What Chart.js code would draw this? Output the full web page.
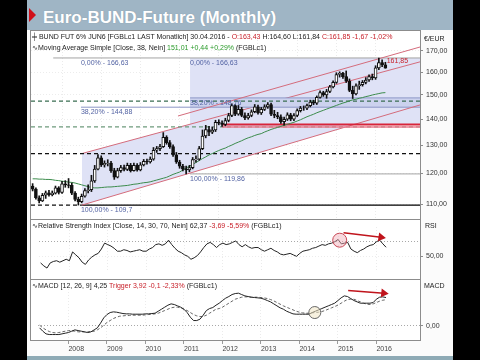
<!DOCTYPE html>
<html><head><meta charset="utf-8">
<script src="https://cdn.jsdelivr.net/npm/chart.js@4.4.1/dist/chart.umd.min.js"></script>
<style>
body{margin:0;width:480px;height:360px;background:#000;position:relative;overflow:hidden;font-family:"Liberation Sans",Arial,sans-serif}
#frame{position:absolute;left:27px;top:0;width:426px;height:360px;background:#fbfbfb}
#head{position:absolute;left:27px;top:0;width:426px;height:30px;background:#9fb5c5}
#tri{position:absolute;left:29px;top:8px;width:0;height:0;border-top:7px solid transparent;border-bottom:7px solid transparent;border-left:7px solid #d0101a}
#title{position:absolute;left:43px;top:9px;font:bold 17px/17px "Liberation Sans",Arial,sans-serif;color:#fff;text-shadow:0 0 1px #7f95a5}
#foot{position:absolute;left:27px;top:356px;width:426px;height:4px;background:#8eaab5}
.bg{position:absolute;background:#fff}
canvas{position:absolute}
.panel{position:absolute;border:1px solid #8c8c8c;box-sizing:border-box;pointer-events:none}
.t{position:absolute;font-size:7px;line-height:8px;white-space:nowrap;color:#222}
.r{color:#c8202a}.g{color:#2a9a2a}.f{color:#5363a3}
</style></head>
<body>
<div id="frame"></div><div id="head"></div><div id="tri"></div>
<div id="title">Euro-BUND-Future (Monthly)</div>
<div id="foot"></div>
<div class="bg" style="left:31px;top:31px;width:389px;height:309px"></div>
<canvas id="cA" width="422" height="188" style="left:31px;top:31px"></canvas>
<canvas id="cB" width="422" height="60" style="left:31px;top:219px"></canvas>
<canvas id="cC" width="422" height="74" style="left:31px;top:279px"></canvas>
<div class="panel" style="left:30px;top:30px;width:391px;height:190px"></div>
<div class="panel" style="left:30px;top:219px;width:391px;height:61px"></div>
<div class="panel" style="left:30px;top:279px;width:391px;height:62px"></div>
<div class="t" style="left:32px;top:33px">╪ BUND FUT 6% JUN6 [FGBLc1 LAST Monatlich] 30.04.2016 - <span class="r">O:163,43</span> H:164,60 L:161,84 <span class="r">C:161,85 -1,67 -1,02%</span></div>
<div class="t" style="left:32px;top:44px">∿Moving Average Simple [Close, 38, Nein] <span class="g">151,01 +0,44 +0,29%</span> (FGBLc1)</div>
<div class="t" style="left:32px;top:222px">∿Relative Strength Index [Close, 14, 30, 70, Nein] 62,37 <span class="r">-3,69 -5,59%</span> (FGBLc1)</div>
<div class="t" style="left:32px;top:282px">∿MACD [12, 26, 9] 4,25 <span class="r">Trigger 3,92 -0,1 -2,33%</span> (FGBLc1)</div>
<div class="t" style="left:424px;top:35px">€/EUR</div>
<div class="t" style="left:425px;top:222px">RSI</div>
<div class="t" style="left:424px;top:282px">MACD</div>
<script>
// ---- data (monthly, first bar = April 2007, last bar = April 2016) ----
const yearLabels = ['2008','2009','2010','2011','2012','2013','2014','2015','2016'];
const yearStartIdx = [9,21,33,45,57,69,81,93,105];
const priceTicks = [110,120,130,140,150,160,170];

const openP = [115.8,114.8,112.0,111.0,112.8,113.6,113.0,113.5,115.2,113.7,
 116.5,116.2,116.0,113.5,111.5,110.8,112.5,114.3,114.6,117.5,
 121.5,125.5,123.0,123.5,123.6,121.0,118.8,121.0,122.0,121.4,
 122.8,121.0,122.8,121.2,123.0,124.2,124.0,125.0,128.2,128.8,
 129.5,133.0,131.0,129.5,126.5,124.0,122.5,121.5,121.2,122.0,
 124.8,125.0,128.8,133.5,136.0,135.0,135.8,138.8,138.5,138.0,
 139.5,141.5,145.5,142.0,144.0,141.5,140.5,141.5,143.0,145.0,
 142.5,144.0,145.0,146.0,142.0,141.5,141.0,139.0,140.0,141.8,
 140.0,141.5,143.5,144.5,144.5,145.5,147.0,146.5,149.0,151.0,
 150.0,151.5,153.5,155.5,159.0,159.5,158.0,156.0,152.0,150.5,
 154.0,154.5,155.5,156.5,158.0,157.5,162.0,164.5,163.43];
const highP = [116.6,115.2,112.6,113.4,114.2,114.4,114.2,115.8,115.6,117.4,
 117.6,118.3,116.8,114.0,112.2,113.2,115.0,116.2,119.4,122.8,
 126.6,126.2,124.4,124.8,124.2,121.8,121.8,122.8,122.9,123.6,
 123.5,123.6,123.4,123.8,124.9,125.0,125.8,129.2,129.6,130.4,
 134.8,133.6,131.8,130.2,127.4,124.6,123.2,122.6,122.8,125.6,
 126.2,129.6,135.8,137.6,137.2,137.0,139.6,139.8,139.4,140.4,
 142.4,146.3,146.0,145.6,144.8,142.6,142.4,143.8,146.0,145.8,
 144.8,145.9,146.8,146.6,143.6,142.8,141.8,140.9,142.6,142.4,
 142.3,144.2,145.2,145.4,146.2,147.8,147.8,149.6,151.8,151.6,
 152.4,154.2,156.2,159.8,160.2,160.0,160.6,157.0,153.8,154.8,
 156.0,156.3,157.6,158.8,159.2,163.0,166.63,165.8,164.60];
const lowP = [114.2,111.6,110.4,110.8,111.8,112.5,112.6,113.2,113.2,113.4,
 115.4,115.2,113.0,111.0,109.7,110.4,112.2,113.6,114.0,117.0,
 121.2,122.4,122.2,122.6,120.4,118.0,118.5,120.4,120.9,121.0,
 120.5,120.8,120.8,120.9,122.6,123.2,123.6,124.6,127.4,128.0,
 129.2,130.4,128.9,126.0,123.5,121.8,120.9,119.86,120.6,121.6,
 123.9,124.6,128.4,132.8,133.6,134.4,135.2,137.8,137.2,137.4,
 139.0,141.0,141.4,141.6,141.0,139.8,140.0,141.0,142.6,142.0,
 141.9,143.5,144.4,141.4,140.6,140.2,138.4,137.7,139.5,139.4,
 139.4,141.0,142.9,143.6,143.9,145.0,145.9,146.0,148.6,149.4,
 148.6,151.0,153.0,155.0,157.8,157.2,155.4,151.4,148.5,150.0,
 152.4,153.8,154.8,155.9,156.6,156.8,161.2,162.6,161.84];
const closeP = [114.8,112.0,111.0,112.8,113.6,113.0,113.5,115.2,113.7,116.5,
 116.2,116.0,113.5,111.5,110.8,112.5,114.3,114.6,117.5,121.5,
 125.5,123.0,123.5,123.6,121.0,118.8,121.0,122.0,121.4,122.8,
 121.0,122.8,121.2,123.0,124.2,124.0,125.0,128.2,128.8,129.5,
 133.0,131.0,129.5,126.5,124.0,122.5,121.5,121.2,122.0,124.8,
 125.0,128.8,133.5,136.0,135.0,135.8,138.8,138.5,138.0,139.5,
 141.5,145.5,142.0,144.0,141.5,140.5,141.5,143.0,145.0,142.5,
 144.0,145.0,146.0,142.0,141.5,141.0,139.0,140.0,141.8,140.0,
 141.5,143.5,144.5,144.5,145.5,147.0,146.5,149.0,151.0,150.0,
 151.5,153.5,155.5,159.0,159.5,158.0,156.0,152.0,150.5,154.0,
 154.5,155.5,156.5,158.0,157.5,162.0,164.5,163.5,161.85];
const ma38 = [118.2,118.2,118.1,118.1,118.0,118.0,117.9,
 117.7,117.6,117.4,117.3,117.1,117.0,116.8,
 116.5,116.2,115.9,115.6,115.3,
 115.2,115.2,115.3,115.4,115.5,115.5,
 115.6,115.7,115.8,115.9,116.0,116.2,
 116.4,116.5,116.7,116.9,117.0,117.2,
 117.5,117.8,118.1,118.4,118.7,
 119.2,119.7,120.1,120.5,
 121.2,121.9,122.5,123.2,123.8,
 124.5,125.2,125.8,126.5,
 127.0,127.6,128.1,128.6,129.0,
 129.6,130.1,130.7,131.2,131.7,
 132.3,132.8,133.2,133.7,134.1,134.4,
 135.0,135.5,136.0,
 136.4,136.8,137.2,137.6,138.0,138.4,138.8,139.3,139.8,
 140.4,141.0,141.5,142.0,142.6,143.1,143.6,144.1,144.6,
 145.1,145.6,146.1,146.6,147.0,147.5,
 147.9,148.2,148.6,148.9,149.3,149.6,150.0,150.3,150.6,150.9,151.01];
const rsi14 = [41,37,34,41,43,44,42,44,46,44,
 56,52,48,42,39,45,49,52,54,60,
 68,66,64,61,57,57,59,58,56,57,
 58,59,57,57,60,62,66,67,65,67,
 72,66,61,57,55,52,50,46,48,51,
 56,62,67,69,66,62,66,68,66,67,
 69,71,66,63,66,63,61,62,62,59,
 57,59,61,58,56,53,52,53,54,52,
 50,54,57,58,59,61,62,64,66,65,
 67,68,70,73,67,68,69,60,57,55,
 58,60,63,65,66,70,72,67,62.37];
const macdLine = [-0.3,-0.8,-1.2,-1.3,-1.3,-1.3,-1.3,-1.2,-1.1,-1.0,
 -0.8,-0.6,-0.7,-0.8,-0.9,-1.0,-0.9,-0.6,-0.3,0.4,
 1.2,1.7,2.0,2.1,2.05,1.95,1.85,1.8,1.8,1.75,
 1.75,1.75,1.75,1.8,1.8,1.85,1.9,2.2,2.5,2.8,
 3.1,3.3,3.2,3.0,2.8,2.5,2.0,1.3,0.8,0.8,
 1.0,1.6,2.3,2.6,2.75,3.1,3.4,3.8,4.15,4.4,
 4.7,4.85,4.9,4.7,4.5,4.4,4.3,4.25,4.2,4.15,
 4.0,3.8,3.6,3.3,3.0,2.7,2.5,2.2,2.0,1.8,
 1.75,1.75,1.75,1.75,1.75,2.0,2.2,2.4,2.6,2.8,
 3.0,3.2,3.4,3.8,4.2,4.5,4.4,4.1,3.8,3.6,
 3.4,3.4,3.4,3.4,3.5,4.0,4.3,4.35,4.25];
const triggerLine = [0.1,-0.3,-0.6,-0.85,-1.0,-1.05,-1.0,-0.9,-0.8,-0.7,
 -0.75,-0.8,-0.9,-0.9,-0.9,-0.9,-0.85,-0.8,-0.6,-0.3,
 0.1,0.5,0.8,1.1,1.3,1.45,1.5,1.55,1.55,1.6,
 1.6,1.6,1.6,1.65,1.7,1.75,1.8,1.9,2.1,2.3,
 2.5,2.7,2.8,2.8,2.7,2.5,2.3,2.0,1.7,1.5,
 1.4,1.4,1.6,1.9,2.2,2.5,2.6,2.8,3.1,3.4,
 3.7,4.0,4.15,4.3,4.35,4.35,4.3,4.3,4.3,4.25,
 4.2,4.1,3.95,3.75,3.5,3.25,3.0,2.8,2.6,2.4,
 2.2,2.05,1.95,1.9,1.9,1.95,2.0,2.05,2.15,2.3,
 2.5,2.7,2.9,3.1,3.4,3.7,3.95,4.0,4.0,3.8,
 3.6,3.4,3.25,3.2,3.3,3.5,3.7,3.85,3.92];

// Fibonacci / drawing levels (price) and where they start (bar index)
const fibA = {start:14.8, high:166.63, f382:144.88, low:109.7};
const fibB = {start:48.2, high:166.63, f382:148.76, f618:137.73, low:119.86};
const dashedLevels = [147.4, 137.0, 127.0];
const channelLower = [[15.1,109.7],[118.6,145.8]];
const channelUpper = [[15.1,127.0],[118.6,164.8]];
const channelOuter = [[44.5,141.3],[118.6,171.9]];
const redZoneStart = 58;
const rsiCircle = [93.5,72], rsiArrow = [[94.7,82],[106.4,76]];
const macdCircle = [85.8,2.0], macdArrow = [[96.2,5.31],[107.3,4.91]];

// ---- chart setup ----
const X_MIN = -0.5, X_MAX = 118.6;
const FONT = '"Liberation Sans", Arial, sans-serif';
Chart.defaults.font.family = FONT;
Chart.defaults.font.size = 7;
const fmt = v => Number(v).toFixed(2).replace('.', ',');
const lavender = '#dfe2f6';
const chanCol = '#d46c7c';

function hline(m0, m1, v, color, width, dash, order, extra) {
  return Object.assign({type:'line', data:[{x:m0,y:v},{x:m1,y:v}], borderColor:color,
    borderWidth:width, borderDash:dash || [], pointRadius:0, fill:false, order:order}, extra || {});
}
function seg(pts, color, width, order, extra) {
  return Object.assign({type:'line', data:pts.map(p => ({x:p[0], y:p[1]})), borderColor:color,
    borderWidth:width, pointRadius:0, fill:false, order:order}, extra || {});
}
function xScale(showLabels) {
  return {
    type:'linear', min:X_MIN, max:X_MAX, offset:false,
    afterBuildTicks: s => { s.ticks = yearStartIdx.map(v => ({value:v})); },
    afterFit: s => { s.height = showLabels ? 13 : 0; },
    ticks: showLabels ? {display:true, align:'start', padding:1, color:'#444', maxRotation:0, autoSkip:false,
      font:{size:7}, callback: (v, i) => yearLabels[i]} : {display:false},
    grid: {offset:false, color:'#ebebeb', drawTicks:showLabels, tickLength:4, tickColor:'#9a9a9a'},
    border: {display:false, dash:[1,2]}
  };
}
function yAfterFit(s) { s.width = 33; s.paddingTop = 0; s.paddingBottom = 0; }
const common = {responsive:false, maintainAspectRatio:false, animation:false, events:[],
  layout:{padding:0}, plugins:{legend:{display:false}, tooltip:{enabled:false}}};

// main price panel
const bodies = openP.map((o, i) => ({x:i, y:[o, closeP[i]]}));
const wicks = lowP.map((l, i) => ({x:i, y:[l, highP[i]]}));
const dsA = [
  {type:'bar', data:bodies, grouped:false, barThickness:3, order:10, borderSkipped:false,
   borderColor:'#111', borderWidth:1,
   backgroundColor: c => closeP[c.dataIndex] >= openP[c.dataIndex] ? '#ffffff' : '#111111'},
  {type:'bar', data:wicks, grouped:false, barThickness:1, order:11, backgroundColor:'#111', borderWidth:0},
  seg(ma38.map((v, i) => [i, v]), '#3c8c4c', 1, 20),
  hline(redZoneStart, X_MAX, 137.9, '#d8243a', 2, [], 30),
  hline(redZoneStart, X_MAX, 137.0, 'rgba(236,120,140,0.75)', 2, [], 31),
  seg(channelOuter, chanCol, 1, 40),
  seg(channelUpper, chanCol, 1, 100, {fill:7, backgroundColor:lavender}),
  seg(channelLower, chanCol, 1, 41),
  hline(fibB.start, X_MAX, fibB.high, 'rgba(0,0,0,0)', 1, [], 101, {fill:9, backgroundColor:lavender}),
  hline(fibB.start, X_MAX, fibB.f618, 'rgba(0,0,0,0)', 1, [], 102),
  hline(fibB.start, X_MAX, fibB.f382, '#8c96c6', 1, [], 90, {fill:11, backgroundColor:'#ccd2ee'}),
  hline(fibB.start, X_MAX, fibA.f382, 'rgba(0,0,0,0)', 1, [], 91),
  hline(fibA.start, X_MAX, fibA.f382, '#8c96c6', 1, [], 45),
  hline(6.3, X_MAX, fibA.high, '#a4a4a4', 1, [], 45),
  hline(fibB.start, X_MAX, fibB.low, '#a4a4a4', 1, [], 45),
  hline(channelLower[0][0], X_MAX, fibA.low, '#000', 1.3, [], 44),
  hline(X_MIN, channelLower[0][0], fibA.low, '#111', 1.2, [4,3], 44),
  hline(X_MIN, X_MAX, dashedLevels[2], '#111', 1.3, [4,3], 44),
  hline(X_MIN, X_MAX, dashedLevels[0], '#3a6e52', 1.2, [4,3], 44),
  hline(X_MIN, X_MAX, dashedLevels[1], '#6e9a7c', 1.2, [4,3], 46)
];
const chartA = new Chart(document.getElementById('cA'), {
  type:'bar', data:{datasets:dsA},
  options: Object.assign({}, common, {scales:{
    x: xScale(false),
    y: {type:'logarithmic', position:'right', min:105.45, max:179.9,
      afterBuildTicks: s => { s.ticks = priceTicks.map(v => ({value:v})); },
      afterFit: yAfterFit,
      ticks:{callback: v => fmt(v), color:'#333', padding:3, font:{size:7}},
      grid:{color:'#ececec', tickLength:3, tickColor:'#8c8c8c'}, border:{display:false, dash:[1,2]}}
  }})
});

// RSI panel
const chartB = new Chart(document.getElementById('cB'), {
  type:'line',
  data:{datasets:[
    seg(rsi14.map((v, i) => [i, v]), '#222', 1, 10),
    {type:'line', data:[{x:rsiCircle[0], y:rsiCircle[1]}], showLine:false, pointRadius:7,
     pointBackgroundColor:'rgba(240,170,182,0.45)', pointBorderColor:'#c84a58', pointBorderWidth:1, order:5},
    seg(rsiArrow, '#c0141c', 1.5, 4, {pointRadius:[0,3.5], pointStyle:'triangle', pointRotation:99,
     pointBackgroundColor:'#c0141c', pointBorderColor:'#c0141c'})
  ]},
  options: Object.assign({}, common, {scales:{
    x: xScale(false),
    y: {type:'linear', position:'right', min:30, max:90,
      afterBuildTicks: s => { s.ticks = [{value:50},{value:70}]; },
      afterFit: yAfterFit,
      ticks:{callback: v => v === 50 ? fmt(v) : '', color:'#333', padding:3, font:{size:7}},
      grid:{color: c => c.tick && c.tick.value === 70 ? '#a8a8a8' : '#ececec', tickLength:3,
        tickColor: c => c.tick && c.tick.value === 70 ? 'rgba(0,0,0,0)' : '#8c8c8c'},
      border:{display:false, dash:[1,2]}}
  }})
});

// MACD panel
const chartC = new Chart(document.getElementById('cC'), {
  type:'line',
  data:{datasets:[
    seg(macdLine.map((v, i) => [i, v]), '#222', 1, 10),
    seg(triggerLine.map((v, i) => [i, v]), '#666', 1, 11, {borderDash:[3,2]}),
    {type:'line', data:[{x:macdCircle[0], y:macdCircle[1]}], showLine:false, pointRadius:6,
     pointBackgroundColor:'rgba(240,230,196,0.55)', pointBorderColor:'#666', pointBorderWidth:1, order:5},
    seg(macdArrow, '#c0141c', 1.5, 4, {pointRadius:[0,3.5], pointStyle:'triangle', pointRotation:96,
     pointBackgroundColor:'#c0141c', pointBorderColor:'#c0141c'})
  ]},
  options: Object.assign({}, common, {scales:{
    x: xScale(true),
    y: {type:'linear', position:'right', min:-2.12, max:5.98,
      afterBuildTicks: s => { s.ticks = [{value:0}]; },
      afterFit: yAfterFit,
      ticks:{callback: v => fmt(v), color:'#333', padding:3, font:{size:7}},
      grid:{color:'#a8a8a8', tickLength:3, tickColor:'#8c8c8c'}, border:{display:false, dash:[1,2]}}
  }})
});

// Fibonacci labels placed through the main chart's scales
const fibLabels = [
  [fibA.start, fibA.high, '0,00% - 166,63'], [fibB.start, fibB.high, '0,00% - 166,63'],
  [fibA.start, fibA.f382, '38,20% - 144,88'], [fibB.start, fibB.f382, '38,20% - 148,76'],
  [fibB.start, fibB.low, '100,00% - 119,86'], [fibA.start, fibA.low, '100,00% - 109,7']
];
const sx = chartA.scales.x, sy = chartA.scales.y;
fibLabels.forEach(l => {
  const d = document.createElement('div');
  d.className = 't f';
  d.textContent = l[2];
  d.style.left = (31 + sx.getPixelForValue(l[0])) + 'px';
  d.style.top = (31 + sy.getPixelForValue(l[1]) + 1) + 'px';
  document.body.appendChild(d);
});
const last = closeP.length - 1;
const lbl = document.createElement('div');
lbl.className = 't r';
lbl.textContent = fmt(closeP[last]);
lbl.style.left = (31 + sx.getPixelForValue(last + 0.4)) + 'px';
lbl.style.top = (31 + sy.getPixelForValue(fibA.high) - 1) + 'px';
document.body.appendChild(lbl);
</script>
</body></html>
